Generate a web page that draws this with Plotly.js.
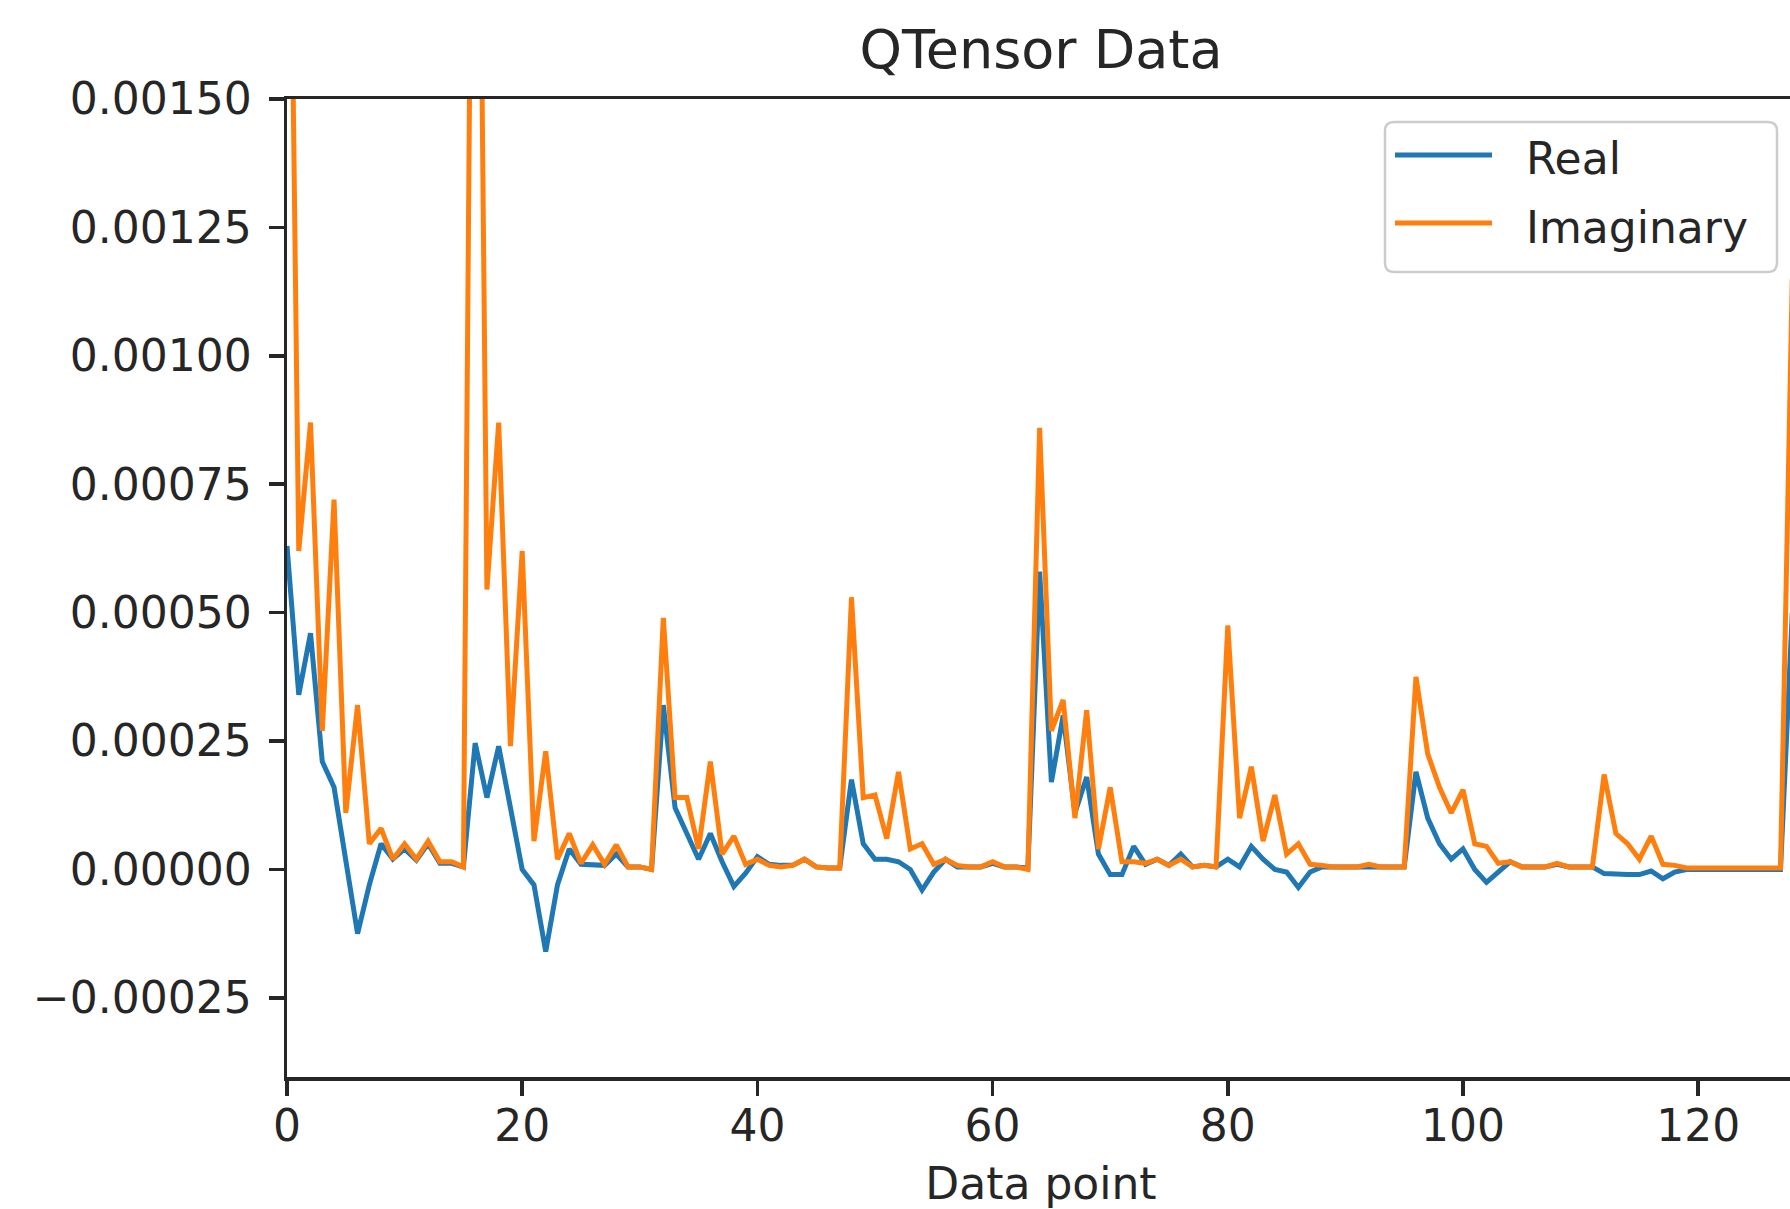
<!DOCTYPE html>
<html>
<head>
<meta charset="utf-8">
<script src="https://cdn.plot.ly/plotly-3.0.1.min.js"></script>
<style>
html, body { margin: 0; padding: 0; overflow: hidden; background: #ffffff; width: 1790px; height: 1209px; }
#chart { width: 1800px; height: 1209px; }
</style>
</head>
<body>
<div id="chart"></div>
<script>
// Data point index (x) and the two series
const dataPoint = [
  0,1,2,3,4,5,6,7,8,9,10,11,12,13,14,15,
  16,17,18,19,20,21,22,23,24,25,26,27,28,29,30,31,
  32,33,34,35,36,37,38,39,40,41,42,43,44,45,46,47,
  48,49,50,51,52,53,54,55,56,57,58,59,60,61,62,63,
  64,65,66,67,68,69,70,71,72,73,74,75,76,77,78,79,
  80,81,82,83,84,85,86,87,88,89,90,91,92,93,94,95,
  96,97,98,99,100,101,102,103,104,105,106,107,108,109,110,111,
  112,113,114,115,116,117,118,119,120,121,122,123,124,125,126,127,
  128
];

const realPart = [
  0.00063,0.00034,0.00046,0.00021,0.00016,0.00002,-0.000125,-0.00003,0.00005,0.00002,0.00004,0.000018,0.00005,0.000012,0.000012,0.000005,
  0.000246,0.00014,0.00024,0.00012,0.0,-0.00003,-0.00016,-0.00003,0.00004,0.00001,0.00001,0.000008,0.00003,0.000005,0.000005,0.0,
  0.00032,0.00012,0.00007,0.00002,0.00007,0.000015,-0.000033,-0.000007,0.000025,0.00001,0.000008,0.000008,0.00002,0.000005,0.000003,0.000003,
  0.000175,0.00005,0.00002,0.00002,0.000015,0.0,-0.00004,-0.000005,0.00002,0.000005,0.000005,0.000005,0.000012,0.000005,0.000005,0.000003,
  0.00058,0.00017,0.0003,0.00011,0.00018,0.00003,-0.00001,-0.00001,0.000045,0.00001,0.00002,0.000008,0.00003,0.000005,0.000008,0.000005,
  0.00002,0.000005,0.000045,0.00002,0.0,-0.000005,-0.000035,-0.000005,0.000005,0.000005,0.000005,0.000005,0.000005,0.000005,0.000005,0.000005,
  0.00019,0.0001,0.00005,0.00002,0.00004,0.0,-0.000025,-0.000005,0.000015,0.000005,0.000005,0.000005,0.00001,0.000005,0.000005,0.000005,
  -0.000008,-0.00001,-0.00001,-0.00001,-0.000003,-0.000018,-0.000005,0.0,0.0,0.0,0.0,0.0,0.0,0.0,0.0,0.0,
  0.0005
];

const imaginaryPart = [
  0.0025,0.00062,0.00087,0.00027,0.00072,0.00011,0.00032,0.00005,0.00008,0.00002,0.00005,0.00002,0.000055,0.000015,0.000015,0.000005,
  0.0029,0.000545,0.00087,0.00024,0.00062,0.000055,0.00023,0.00002,0.00007,0.000012,0.000048,0.00001,0.000048,0.000005,0.000005,0.0,
  0.00049,0.00014,0.00014,0.00004,0.00021,0.00003,0.000065,0.00001,0.00002,0.000008,0.000005,0.000008,0.00002,0.000005,0.000003,0.000003,
  0.00053,0.00014,0.000145,0.00006,0.00019,0.00004,0.00005,0.00001,0.00002,0.000008,0.000005,0.000005,0.000015,0.000005,0.000005,0.0,
  0.00086,0.00027,0.00033,0.0001,0.00031,0.00004,0.00016,0.000015,0.000015,0.000012,0.00002,0.000008,0.00002,0.000005,0.000008,0.000005,
  0.000475,0.0001,0.0002,0.000055,0.000145,0.00003,0.00005,0.00001,0.000008,0.000005,0.000005,0.000005,0.00001,0.000005,0.000005,0.000005,
  0.000375,0.000225,0.00016,0.00011,0.000155,0.00005,0.000045,0.000012,0.000015,0.000005,0.000005,0.000005,0.000012,0.000005,0.000005,0.000005,
  0.000185,0.00007,0.00005,0.00002,0.000065,0.00001,0.000008,0.000003,0.000003,0.000003,0.000003,0.000003,0.000003,0.000003,0.000003,0.000003,
  0.00115
];

const seriesNames = ["Real", "Imaginary"];
const seriesColors = ["#1f77b4", "#ff7f0e"];
const chartTitle = "QTensor Data";
const xTitle = "Data point";

const FONT = "DejaVu Sans, Liberation Sans, sans-serif";
const INK = "#262626";

// figure geometry (pixels)
const W = 1800, H = 1209;
const M = { l: 287, r: 5, t: 99, b: 132 };
const plotW = W - M.l - M.r, plotH = H - M.t - M.b;
const px2x = p => (p - M.l) / plotW;          // pixel -> paper x
const px2y = p => 1 - (p - M.t) / plotH;      // pixel -> paper y

const traces = [
  { x: dataPoint, y: realPart, name: seriesNames[0], type: "scatter", mode: "lines",
    line: { color: seriesColors[0], width: 5 }, showlegend: false },
  { x: dataPoint, y: imaginaryPart, name: seriesNames[1], type: "scatter", mode: "lines",
    line: { color: seriesColors[1], width: 5 }, showlegend: false }
];

// legend frame (rounded rectangle) drawn in paper coordinates
const box = { l: 1385, r: 1777, t: 122, b: 272, rad: 9 };
const rx = box.rad / plotW, ry = box.rad / plotH;
const L = px2x(box.l), R = px2x(box.r), T = px2y(box.t), B = px2y(box.b);
const framePath =
  `M ${L + rx},${T} L ${R - rx},${T} Q ${R},${T} ${R},${T - ry} ` +
  `L ${R},${B + ry} Q ${R},${B} ${R - rx},${B} ` +
  `L ${L + rx},${B} Q ${L},${B} ${L},${B + ry} ` +
  `L ${L},${T - ry} Q ${L},${T} ${L + rx},${T} Z`;

const legendRowsY = [155, 223];
const shapes = [
  { type: "path", xref: "paper", yref: "paper", path: framePath,
    fillcolor: "rgba(255,255,255,0.8)", line: { color: "#cccccc", width: 2.5 }, layer: "above" }
];
const annotations = [];
seriesNames.forEach((nm, k) => {
  shapes.push({ type: "line", xref: "paper", yref: "paper",
    x0: px2x(1395), x1: px2x(1492), y0: px2y(legendRowsY[k]), y1: px2y(legendRowsY[k]),
    line: { color: seriesColors[k], width: 5 }, layer: "above" });
  annotations.push({ text: nm, xref: "paper", yref: "paper",
    x: px2x(1524), y: px2y(legendRowsY[k] + 4), xanchor: "left", yanchor: "middle",
    showarrow: false, font: { family: FONT, size: 44, color: INK } });
});

const axisCommon = {
  showline: true, linecolor: INK, linewidth: 3.5, mirror: true,
  ticks: "outside", ticklen: 15, tickwidth: 3.5, tickcolor: INK,
  showgrid: false, zeroline: false,
  tickfont: { family: FONT, size: 44, color: INK }
};

const layout = {
  width: W, height: H,
  margin: { l: M.l, r: M.r, t: M.t, b: M.b, pad: 0 },
  paper_bgcolor: "#ffffff", plot_bgcolor: "#ffffff",
  font: { family: FONT, color: INK },
  showlegend: false,
  title: {
    text: chartTitle, font: { family: FONT, size: 54, color: INK },
    x: 0.5, xref: "paper", xanchor: "center",
    y: 1, yref: "paper", yanchor: "bottom", pad: { b: 31 }
  },
  xaxis: Object.assign({}, axisCommon, {
    range: [0, plotW / 11.76], tick0: 0, dtick: 20,
    ticklabelstandoff: -7,
    title: { text: xTitle, font: { family: FONT, size: 44, color: INK }, standoff: 44 }
  }),
  yaxis: Object.assign({}, axisCommon, {
    range: [-0.000404, 0.0015], tick0: 0, dtick: 0.00025, tickformat: ".5f",
    ticklabelstandoff: 8
  }),
  shapes: shapes,
  annotations: annotations
};

Plotly.newPlot("chart", traces, layout, { displayModeBar: false, staticPlot: true });
</script>
</body>
</html>
